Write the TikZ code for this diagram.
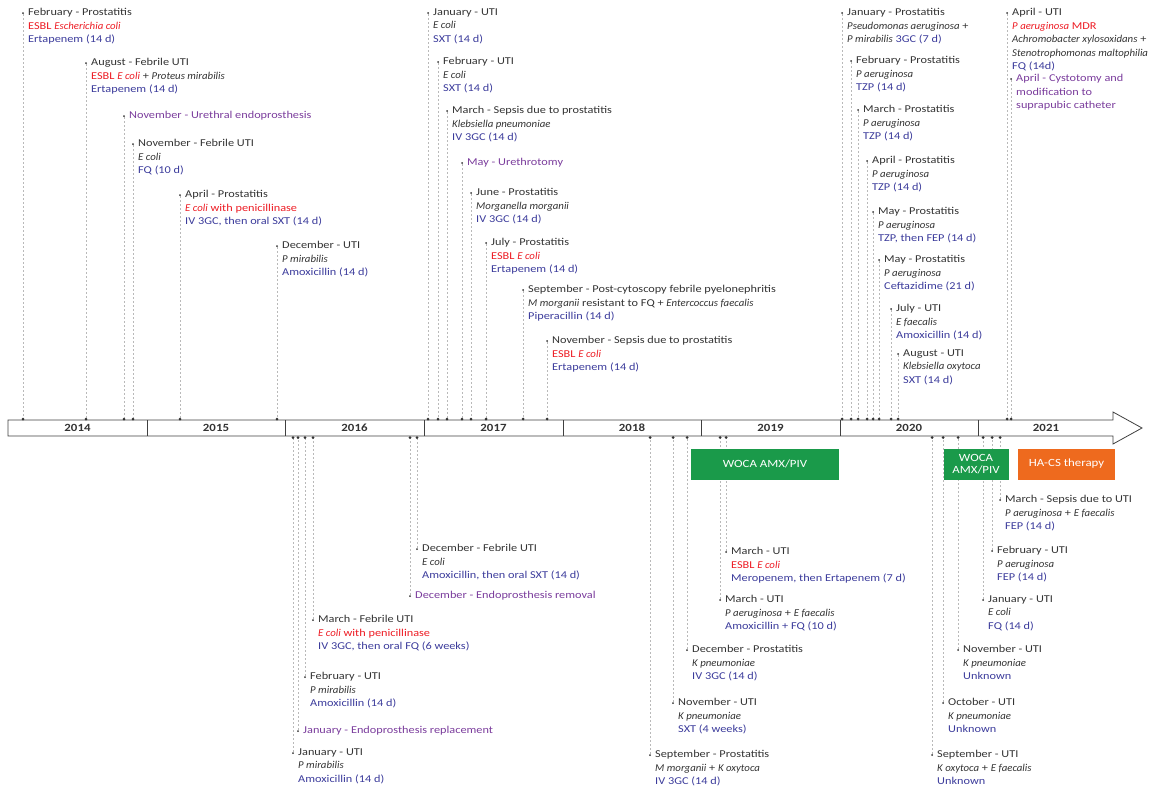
\documentclass[tikz,border=0pt]{standalone}
\usepackage{fontspec}
\setmainfont{Carlito}[UprightFeatures={FakeStretch=1.17},
    BoldFeatures={FakeStretch=1.17}, ItalicFeatures={FakeStretch=1.03}]
\definecolor{evblack}{HTML}{333333}
\definecolor{evred}{HTML}{ED1C24}
\definecolor{evblue}{HTML}{3B3B9B}
\definecolor{evpurple}{HTML}{7A3C9C}
\definecolor{wocagreen}{HTML}{1A9A4A}
\definecolor{hacsorange}{HTML}{EE6A1E}
\newcommand{\bugred}[1]{\textcolor{evred}{#1}}
\newcommand{\abx}[1]{\textcolor{evblue}{#1}}

\begin{document}
\begin{tikzpicture}[x=1pt, y=-1pt,
    pin/.style={circle, fill=evblack, inner sep=0pt, minimum size=2pt},
    tick/.style={circle, fill=evblack, inner sep=0pt, minimum size=3pt},
    guide/.style={gray!55, line width=0.4pt, dash pattern=on 2pt off 2pt},
    evt/.style={anchor=north west, xshift=5pt, yshift=4.8pt, inner sep=0pt,
        align=left, text=evblack, font=\fontsize{10.5}{13.5}\selectfont},
    surg/.style={evt, text=evpurple},
    yr/.style={text=evblack, font=\bfseries\fontsize{11}{12}\selectfont},
    therapy/.style={text=white, align=center, inner sep=0pt, minimum height=31pt,
        font=\fontsize{11}{12.5}\selectfont}]

    \useasboundingbox (0,0) rectangle (1153,790);

    % The time axis with its years.
    \draw[fill=white, draw=gray!50!black, line width=0.8pt]
        (8,420) -- (1113,420) -- (1113,412) -- (1142,428) -- (1113,444)
        -- (1113,436) -- (8,436) -- cycle;
    \draw[gray!50!black, line width=0.8pt]
        (147,420) -- (147,436) (285,420) -- (285,436) (424,420) -- (424,436)
        (563,420) -- (563,436) (701,420) -- (701,436) (840,420) -- (840,436)
        (978,420) -- (978,436);
    \coordinate (axtop) at (0,419);
    \coordinate (axbot) at (0,437.5);
    \node[yr] (y14) at (77.5,428) {2014};
    \node[yr] (y15) at (216,428) {2015};
    \node[yr] (y16) at (354.5,428) {2016};
    \node[yr] (y17) at (493.5,428) {2017};
    \node[yr] (y18) at (632,428) {2018};
    \node[yr] (y19) at (770.5,428) {2019};
    \node[yr] (y20) at (909,428) {2020};
    \node[yr] (y21) at (1046,428) {2021};

    % Events above the axis.
    \node[pin] (pu1) at (23,13) {};
    \node[evt] (eu1) at (pu1) {February - Prostatitis\\ \bugred{ESBL \textit{Escherichia coli}}\\ \abx{Ertapenem (14 d)}};
    \draw[guide] (pu1) -- (pu1 |- axtop) node[tick] (tu1) {};

    \node[pin] (pu2) at (86,63) {};
    \node[evt] (eu2) at (pu2) {August - Febrile UTI\\ \bugred{ESBL \textit{E coli}} + \textit{Proteus mirabilis}\\ \abx{Ertapenem (14 d)}};
    \draw[guide] (pu2) -- (pu2 |- axtop) node[tick] (tu2) {};

    \node[pin] (pu3) at (124,116) {};
    \node[surg] (eu3) at (pu3) {November - Urethral endoprosthesis};
    \draw[guide] (pu3) -- (pu3 |- axtop) node[tick] (tu3) {};

    \node[pin] (pu4) at (133,144) {};
    \node[evt] (eu4) at (pu4) {November - Febrile UTI\\ \textit{E coli}\\ \abx{FQ (10 d)}};
    \draw[guide] (pu4) -- (pu4 |- axtop) node[tick] (tu4) {};

    \node[pin] (pu5) at (180,195) {};
    \node[evt] (eu5) at (pu5) {April - Prostatitis\\ \bugred{\textit{E coli} with penicillinase}\\ \abx{IV 3GC, then oral SXT (14 d)}};
    \draw[guide] (pu5) -- (pu5 |- axtop) node[tick] (tu5) {};

    \node[pin] (pu6) at (277,246) {};
    \node[evt] (eu6) at (pu6) {December - UTI\\ \textit{P mirabilis}\\ \abx{Amoxicillin (14 d)}};
    \draw[guide] (pu6) -- (pu6 |- axtop) node[tick] (tu6) {};

    \node[pin] (pu7) at (428,13) {};
    \node[evt] (eu7) at (pu7) {January - UTI\\ \textit{E coli}\\ \abx{SXT (14 d)}};
    \draw[guide] (pu7) -- (pu7 |- axtop) node[tick] (tu7) {};

    \node[pin] (pu8) at (438,62) {};
    \node[evt] (eu8) at (pu8) {February - UTI\\ \textit{E coli}\\ \abx{SXT (14 d)}};
    \draw[guide] (pu8) -- (pu8 |- axtop) node[tick] (tu8) {};

    \node[pin] (pu9) at (447,111) {};
    \node[evt] (eu9) at (pu9) {March - Sepsis due to prostatitis\\ \textit{Klebsiella pneumoniae}\\ \abx{IV 3GC (14 d)}};
    \draw[guide] (pu9) -- (pu9 |- axtop) node[tick] (tu9) {};

    \node[pin] (pu10) at (462,163) {};
    \node[surg] (eu10) at (pu10) {May - Urethrotomy};
    \draw[guide] (pu10) -- (pu10 |- axtop) node[tick] (tu10) {};

    \node[pin] (pu11) at (471,193) {};
    \node[evt] (eu11) at (pu11) {June - Prostatitis\\ \textit{Morganella morganii}\\ \abx{IV 3GC (14 d)}};
    \draw[guide] (pu11) -- (pu11 |- axtop) node[tick] (tu11) {};

    \node[pin] (pu12) at (486,243) {};
    \node[evt] (eu12) at (pu12) {July - Prostatitis\\ \bugred{ESBL \textit{E coli}}\\ \abx{Ertapenem (14 d)}};
    \draw[guide] (pu12) -- (pu12 |- axtop) node[tick] (tu12) {};

    \node[pin] (pu13) at (523,290) {};
    \node[evt] (eu13) at (pu13) {September - Post-cytoscopy febrile pyelonephritis\\ \textit{M morganii} resistant to FQ + \textit{Entercoccus faecalis}\\ \abx{Piperacillin (14 d)}};
    \draw[guide] (pu13) -- (pu13 |- axtop) node[tick] (tu13) {};

    \node[pin] (pu14) at (547,341) {};
    \node[evt] (eu14) at (pu14) {November - Sepsis due to prostatitis\\ \bugred{ESBL \textit{E coli}}\\ \abx{Ertapenem (14 d)}};
    \draw[guide] (pu14) -- (pu14 |- axtop) node[tick] (tu14) {};

    \node[pin] (pu15) at (842,13) {};
    \node[evt] (eu15) at (pu15) {January - Prostatitis\\ \textit{Pseudomonas aeruginosa} +\\ \textit{P mirabilis} \abx{3GC (7 d)}};
    \draw[guide] (pu15) -- (pu15 |- axtop) node[tick] (tu15) {};

    \node[pin] (pu16) at (851,61) {};
    \node[evt] (eu16) at (pu16) {February - Prostatitis\\ \textit{P aeruginosa}\\ \abx{TZP (14 d)}};
    \draw[guide] (pu16) -- (pu16 |- axtop) node[tick] (tu16) {};

    \node[pin] (pu17) at (858,110) {};
    \node[evt] (eu17) at (pu17) {March - Prostatitis\\ \textit{P aeruginosa}\\ \abx{TZP (14 d)}};
    \draw[guide] (pu17) -- (pu17 |- axtop) node[tick] (tu17) {};

    \node[pin] (pu18) at (867,161) {};
    \node[evt] (eu18) at (pu18) {April - Prostatitis\\ \textit{P aeruginosa}\\ \abx{TZP (14 d)}};
    \draw[guide] (pu18) -- (pu18 |- axtop) node[tick] (tu18) {};

    \node[pin] (pu19) at (873,212) {};
    \node[evt] (eu19) at (pu19) {May - Prostatitis\\ \textit{P aeruginosa}\\ \abx{TZP, then FEP (14 d)}};
    \draw[guide] (pu19) -- (pu19 |- axtop) node[tick] (tu19) {};

    \node[pin] (pu20) at (879,260) {};
    \node[evt] (eu20) at (pu20) {May - Prostatitis\\ \textit{P aeruginosa}\\ \abx{Ceftazidime (21 d)}};
    \draw[guide] (pu20) -- (pu20 |- axtop) node[tick] (tu20) {};

    \node[pin] (pu21) at (891,309) {};
    \node[evt] (eu21) at (pu21) {July - UTI\\ \textit{E faecalis}\\ \abx{Amoxicillin (14 d)}};
    \draw[guide] (pu21) -- (pu21 |- axtop) node[tick] (tu21) {};

    \node[pin] (pu22) at (898,354) {};
    \node[evt] (eu22) at (pu22) {August - UTI\\ \textit{Klebsiella oxytoca}\\ \abx{SXT (14 d)}};
    \draw[guide] (pu22) -- (pu22 |- axtop) node[tick] (tu22) {};

    \node[pin] (pu23) at (1007,13) {};
    \node[evt] (eu23) at (pu23) {April - UTI\\ \bugred{\textit{P aeruginosa} MDR}\\ \textit{Achromobacter xylosoxidans} +\\ \textit{Stenotrophomonas maltophilia}\\ \abx{FQ (14d)}};
    \draw[guide] (pu23) -- (pu23 |- axtop) node[tick] (tu23) {};

    \node[pin] (pu24) at (1011,79) {};
    \node[surg] (eu24) at (pu24) {April - Cystotomy and\\ modification to\\ suprapubic catheter};
    \draw[guide] (pu24) -- (pu24 |- axtop) node[tick] (tu24) {};

    % Events below the axis.
    \node[pin] (pl1) at (417,549) {};
    \node[evt] (el1) at (pl1) {December - Febrile UTI\\ \textit{E coli}\\ \abx{Amoxicillin, then oral SXT (14 d)}};
    \draw[guide] (pl1) -- (pl1 |- axbot) node[tick] (tl1) {};

    \node[pin] (pl2) at (410,596) {};
    \node[surg] (el2) at (pl2) {December - Endoprosthesis removal};
    \draw[guide] (pl2) -- (pl2 |- axbot) node[tick] (tl2) {};

    \node[pin] (pl3) at (313,620) {};
    \node[evt] (el3) at (pl3) {March - Febrile UTI\\ \bugred{\textit{E coli} with penicillinase}\\ \abx{IV 3GC, then oral FQ (6 weeks)}};
    \draw[guide] (pl3) -- (pl3 |- axbot) node[tick] (tl3) {};

    \node[pin] (pl4) at (305,677) {};
    \node[evt] (el4) at (pl4) {February - UTI\\ \textit{P mirabilis}\\ \abx{Amoxicillin (14 d)}};
    \draw[guide] (pl4) -- (pl4 |- axbot) node[tick] (tl4) {};

    \node[pin] (pl5) at (298,731) {};
    \node[surg] (el5) at (pl5) {January - Endoprosthesis replacement};
    \draw[guide] (pl5) -- (pl5 |- axbot) node[tick] (tl5) {};

    \node[pin] (pl6) at (293,753) {};
    \node[evt] (el6) at (pl6) {January - UTI\\ \textit{P mirabilis}\\ \abx{Amoxicillin (14 d)}};
    \draw[guide] (pl6) -- (pl6 |- axbot) node[tick] (tl6) {};

    \node[pin] (pl7) at (726,552) {};
    \node[evt] (el7) at (pl7) {March - UTI\\ \bugred{ESBL \textit{E coli}}\\ \abx{Meropenem, then Ertapenem (7 d)}};
    \draw[guide] (pl7) -- (pl7 |- axbot) node[tick] (tl7) {};

    \node[pin] (pl8) at (720,600) {};
    \node[evt] (el8) at (pl8) {March - UTI\\ \textit{P aeruginosa} + \textit{E faecalis}\\ \abx{Amoxicillin + FQ (10 d)}};
    \draw[guide] (pl8) -- (pl8 |- axbot) node[tick] (tl8) {};

    \node[pin] (pl9) at (687,650) {};
    \node[evt] (el9) at (pl9) {December - Prostatitis\\ \textit{K pneumoniae}\\ \abx{IV 3GC (14 d)}};
    \draw[guide] (pl9) -- (pl9 |- axbot) node[tick] (tl9) {};

    \node[pin] (pl10) at (673,703) {};
    \node[evt] (el10) at (pl10) {November - UTI\\ \textit{K pneumoniae}\\ \abx{SXT (4 weeks)}};
    \draw[guide] (pl10) -- (pl10 |- axbot) node[tick] (tl10) {};

    \node[pin] (pl11) at (650,755) {};
    \node[evt] (el11) at (pl11) {September - Prostatitis\\ \textit{M morganii} + \textit{K oxytoca}\\ \abx{IV 3GC (14 d)}};
    \draw[guide] (pl11) -- (pl11 |- axbot) node[tick] (tl11) {};

    \node[pin] (pl12) at (1000,500) {};
    \node[evt] (el12) at (pl12) {March - Sepsis due to UTI\\ \textit{P aeruginosa} + \textit{E faecalis}\\ \abx{FEP (14 d)}};
    \draw[guide] (pl12) -- (pl12 |- axbot) node[tick] (tl12) {};

    \node[pin] (pl13) at (992,551) {};
    \node[evt] (el13) at (pl13) {February - UTI\\ \textit{P aeruginosa}\\ \abx{FEP (14 d)}};
    \draw[guide] (pl13) -- (pl13 |- axbot) node[tick] (tl13) {};

    \node[pin] (pl14) at (983,600) {};
    \node[evt] (el14) at (pl14) {January - UTI\\ \textit{E coli}\\ \abx{FQ (14 d)}};
    \draw[guide] (pl14) -- (pl14 |- axbot) node[tick] (tl14) {};

    \node[pin] (pl15) at (958,650) {};
    \node[evt] (el15) at (pl15) {November - UTI\\ \textit{K pneumoniae}\\ \abx{Unknown}};
    \draw[guide] (pl15) -- (pl15 |- axbot) node[tick] (tl15) {};

    \node[pin] (pl16) at (943,703) {};
    \node[evt] (el16) at (pl16) {October - UTI\\ \textit{K pneumoniae}\\ \abx{Unknown}};
    \draw[guide] (pl16) -- (pl16 |- axbot) node[tick] (tl16) {};

    \node[pin] (pl17) at (932,755) {};
    \node[evt] (el17) at (pl17) {September - UTI\\ \textit{K oxytoca} + \textit{E faecalis}\\ \abx{Unknown}};
    \draw[guide] (pl17) -- (pl17 |- axbot) node[tick] (tl17) {};

    % Therapy periods.
    \node[therapy, fill=wocagreen, minimum width=148pt] (woca1) at (765,464) {WOCA AMX/PIV};
    \node[therapy, fill=wocagreen, minimum width=65pt] (woca2) at (976,464) {WOCA\\AMX/PIV};
    \node[therapy, fill=hacsorange, minimum width=97pt] (hacs) at (1066.5,464) {HA-CS therapy};

\end{tikzpicture}
\end{document}
